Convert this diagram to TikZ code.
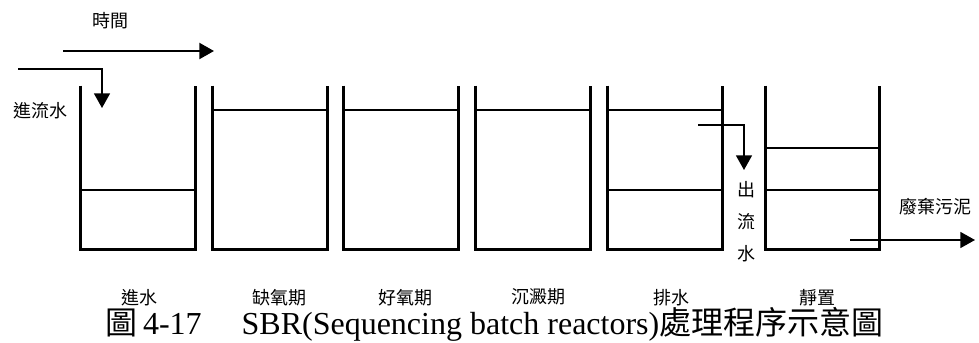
\documentclass[tikz,border=0pt]{standalone}
\usepackage{fontspec}
\setmainfont{Liberation Serif}
\newfontfamily\cjk{Noto Sans CJK TC}
\usetikzlibrary{arrows.meta,positioning,calc}
\tikzset{
  tank/.style  = {rectangle, inner sep=0pt, minimum width=85.5pt,
                  minimum height=122.25pt},
  wall/.style  = {draw=black, line width=2pt, line join=miter},
  lvl/.style   = {draw=black, line width=1.5pt},
  ar/.style    = {-{Triangle[length=11pt,width=12pt]}, line width=1.2pt},
  bigar/.style = {-{Triangle[length=11pt,width=12pt]}, line width=1.6pt},
  lbl/.style   = {font=\cjk\fontsize{13.5pt}{16pt}\selectfont, inner sep=0pt,
                  align=center},
  phase/.style = {font=\cjk\fontsize{13.5pt}{16pt}\selectfont, inner sep=0pt},
  capt/.style  = {font=\fontsize{24pt}{28pt}\selectfont, inner sep=0pt},
}

\begin{document}
\begin{tikzpicture}[x=0.75pt, y=0.75pt]
\useasboundingbox (0,0) rectangle (979,343);

%% ---- reactors --------------------------------------------------------
\foreach \n/\cx in {1/138,2/270,3/401,4/533,5/665,6/822.5}
  \node[tank] (t\n) at (\cx,175.5) {};
\foreach \n in {1,...,6}
  \draw[wall] (t\n.north west) -- (t\n.south west) -- (t\n.south east)
    -- (t\n.north east);

%% water and sludge levels
\foreach \n/\h in {1/59,2/139,3/139,4/139,5/139,5/59,6/101,6/59}
  \draw[lvl] ($(t\n.south west)+(0,\h)$) -- ($(t\n.south east)+(0,\h)$);

%% ---- phase names -----------------------------------------------------
\foreach \n/\txt/\dx in {1/進水/1,2/缺氧期/9,3/好氧期/4,4/沉澱期/5,
                         5/排水/6,6/靜置/-5}
  \node[phase] (p\n) at ($(t\n.south)+(\dx,-48)$) {\txt};

%% ---- time axis -------------------------------------------------------
\node[lbl] (time) at (110,322) {時間};
\coordinate (ts) at (63,292);
\coordinate (te) at (214,292);
\draw[bigar] (ts) -- (te);

%% ---- inflow ----------------------------------------------------------
\node[lbl] (inflow) at (40,232) {進流水};
\coordinate (inA) at (18,274);
\coordinate (inB) at (102,235);
\draw[ar] (inA) -| (inB);

%% ---- outflow ---------------------------------------------------------
\coordinate (outA) at (698,218);
\coordinate (outB) at (744,173);
\draw[ar] (outA) -| (outB);
\node[lbl, font=\cjk\fontsize{13.5pt}{24pt}\selectfont] (outflow)
  at (746,121) {出\\流\\水};

%% ---- waste sludge ----------------------------------------------------
\node[lbl] (sludge) at (935,136) {廢棄污泥};
\coordinate (slA) at (850,103);
\coordinate (slB) at (975,103);
\draw[ar] (slA) -- (slB);

%% ---- caption ---------------------------------------------------------
\node[capt] (cap) at (494.5,19)
  {{\cjk 圖}\,4-17\quad\ SBR(Sequencing batch reactors){\cjk 處理程序示意圖}};
\end{tikzpicture}
\end{document}
